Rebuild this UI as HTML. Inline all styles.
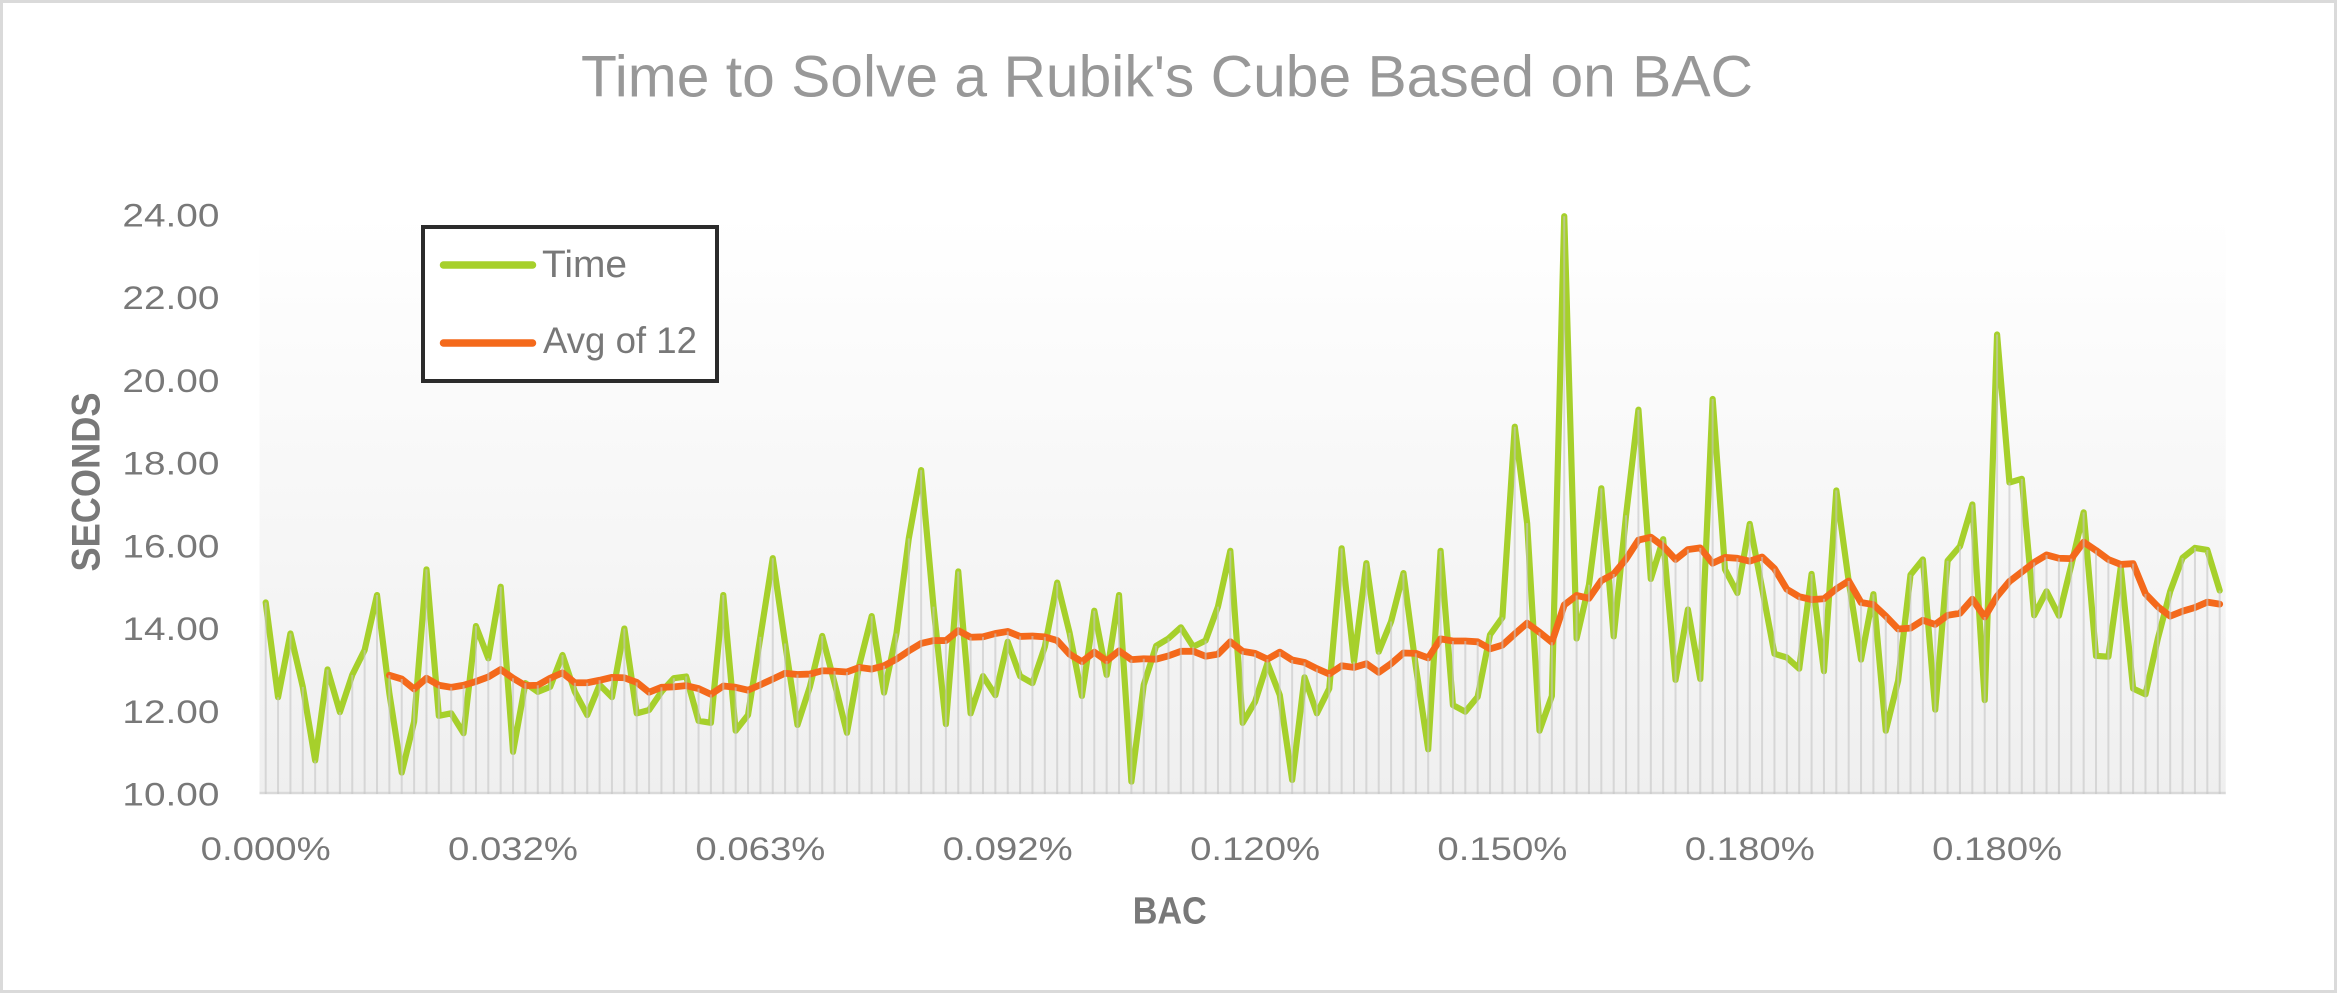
<!DOCTYPE html>
<html>
<head>
<meta charset="utf-8">
<style>
html,body{margin:0;padding:0;background:#fff;}
svg{display:block;}
text{font-family:"Liberation Sans",sans-serif;}
</style>
</head>
<body>
<svg width="2337" height="993" viewBox="0 0 2337 993" xmlns="http://www.w3.org/2000/svg">
<defs>
<linearGradient id="pg" x1="0" y1="0" x2="0" y2="1">
<stop offset="0" stop-color="#ffffff"/>
<stop offset="1" stop-color="#efefef"/>
</linearGradient>
</defs>
<rect x="0" y="0" width="2337" height="993" fill="#ffffff"/>
<rect x="1.5" y="1.5" width="2334" height="990" fill="none" stroke="#dadada" stroke-width="3"/>

<text x="581" y="96.7" font-size="58.6" fill="#989898" textLength="1172" lengthAdjust="spacingAndGlyphs">Time to Solve a Rubik's Cube Based on BAC</text>

<rect x="259.5" y="215" width="1966.2" height="579" fill="url(#pg)"/>
<line x1="259.5" y1="793" x2="2225.7" y2="793" stroke="#d9d9d9" stroke-width="2.5"/>

<g transform="matrix(12.367 0 0 -41.36 265.7 1207.6)">
<polyline fill="none" stroke="#a6d02b" stroke-width="6.2" stroke-linejoin="round" stroke-linecap="round" vector-effect="non-scaling-stroke" points="0,14.63 1,12.34 2,13.88 3,12.59 4,10.81 5,13.01 6,11.98 7,12.88 8,13.48 9,14.81 10,12.43 11,10.52 12,11.75 13,15.43 14,11.89 15,11.95 16,11.47 17,14.06 18,13.28 19,15.01 20,11.02 21,12.68 22,12.47 23,12.59 24,13.36 25,12.47 26,11.91 27,12.64 28,12.34 29,14 30,11.95 31,12.03 32,12.47 33,12.8 34,12.84 35,11.77 36,11.72 37,14.81 38,11.53 39,11.91 40,13.8 41,15.7 42,13.64 43,11.67 44,12.59 45,13.82 46,12.68 47,11.48 48,13.12 49,14.3 50,12.45 51,13.88 52,16.18 53,17.83 54,14.53 55,11.69 56,15.38 57,11.95 58,12.85 59,12.39 60,13.68 61,12.85 62,12.68 63,13.56 64,15.11 65,13.9 66,12.37 67,14.43 68,12.88 69,14.81 70,10.3 71,12.64 72,13.58 73,13.76 74,14.03 75,13.56 76,13.71 77,14.53 78,15.88 79,11.72 80,12.23 81,13.16 82,12.39 83,10.34 84,12.82 85,11.95 86,12.55 87,15.94 88,13.2 89,15.58 90,13.44 91,14.17 92,15.34 93,13.08 94,11.08 95,15.88 96,12.15 97,11.99 98,12.35 99,13.85 100,14.27 101,18.88 102,16.55 103,11.53 104,12.37 105,23.97 106,13.76 107,15.06 108,17.39 109,13.81 110,16.74 111,19.29 112,15.2 113,16.16 114,12.76 115,14.46 116,12.78 117,19.55 118,15.43 119,14.86 120,16.53 121,14.97 122,13.39 123,13.3 124,13.03 125,15.32 126,12.97 127,17.34 128,15.15 129,13.25 130,14.83 131,11.53 132,12.74 133,15.3 134,15.67 135,12.04 136,15.64 137,15.99 138,17 139,12.27 140,21.11 141,17.53 142,17.62 143,14.32 144,14.9 145,14.31 146,15.53 147,16.81 148,13.34 149,13.32 150,15.48 151,12.55 152,12.41 153,13.76 154,14.9 155,15.71 156,15.95 157,15.9 158,14.92"/>
<polyline fill="none" stroke="#f4691b" stroke-width="6.8" stroke-linejoin="round" stroke-linecap="round" vector-effect="non-scaling-stroke" points="10,12.87 11,12.78 12,12.54 13,12.8 14,12.63 15,12.58 16,12.63 17,12.72 18,12.83 19,13.01 20,12.8 21,12.62 22,12.63 23,12.8 24,12.93 25,12.69 26,12.69 27,12.75 28,12.82 29,12.81 30,12.7 31,12.46 32,12.58 33,12.59 34,12.62 35,12.55 36,12.41 37,12.61 38,12.58 39,12.51 40,12.64 41,12.78 42,12.92 43,12.89 44,12.9 45,12.98 46,12.97 47,12.95 48,13.06 49,13.02 50,13.1 51,13.26 52,13.46 53,13.64 54,13.71 55,13.71 56,13.95 57,13.79 58,13.8 59,13.88 60,13.93 61,13.81 62,13.82 63,13.8 64,13.71 65,13.38 66,13.2 67,13.43 68,13.22 69,13.46 70,13.25 71,13.27 72,13.26 73,13.34 74,13.45 75,13.45 76,13.33 77,13.38 78,13.68 79,13.45 80,13.4 81,13.26 82,13.43 83,13.24 84,13.18 85,13.03 86,12.9 87,13.1 88,13.06 89,13.15 90,12.94 91,13.15 92,13.41 93,13.4 94,13.29 95,13.75 96,13.7 97,13.7 98,13.68 99,13.51 100,13.6 101,13.87 102,14.13 103,13.91 104,13.67 105,14.57 106,14.8 107,14.73 108,15.16 109,15.32 110,15.68 111,16.14 112,16.21 113,15.99 114,15.67 115,15.91 116,15.95 117,15.58 118,15.72 119,15.7 120,15.63 121,15.73 122,15.45 123,14.95 124,14.77 125,14.7 126,14.72 127,14.96 128,15.15 129,14.63 130,14.58 131,14.3 132,13.99 133,14.01 134,14.2 135,14.1 136,14.32 137,14.37 138,14.71 139,14.28 140,14.78 141,15.14 142,15.37 143,15.6 144,15.78 145,15.7 146,15.69 147,16.09 148,15.89 149,15.67 150,15.55 151,15.57 152,14.84 153,14.53 154,14.3 155,14.42 156,14.51 157,14.64 158,14.59"/>
<path fill="none" stroke="rgba(196,196,196,0.6)" stroke-width="2" vector-effect="non-scaling-stroke" d="M0 10V14.63M1 10V12.34M2 10V13.88M3 10V12.59M4 10V10.81M5 10V13.01M6 10V11.98M7 10V12.88M8 10V13.48M9 10V14.81M10 10V12.87M11 10V12.78M12 10V12.54M13 10V15.43M14 10V12.63M15 10V12.58M16 10V12.63M17 10V14.06M18 10V13.28M19 10V15.01M20 10V12.8M21 10V12.68M22 10V12.63M23 10V12.8M24 10V13.36M25 10V12.69M26 10V12.69M27 10V12.75M28 10V12.82M29 10V14M30 10V12.7M31 10V12.46M32 10V12.58M33 10V12.8M34 10V12.84M35 10V12.55M36 10V12.41M37 10V14.81M38 10V12.58M39 10V12.51M40 10V13.8M41 10V15.7M42 10V13.64M43 10V12.89M44 10V12.9M45 10V13.82M46 10V12.97M47 10V12.95M48 10V13.12M49 10V14.3M50 10V13.1M51 10V13.88M52 10V16.18M53 10V17.83M54 10V14.53M55 10V13.71M56 10V15.38M57 10V13.79M58 10V13.8M59 10V13.88M60 10V13.93M61 10V13.81M62 10V13.82M63 10V13.8M64 10V15.11M65 10V13.9M66 10V13.2M67 10V14.43M68 10V13.22M69 10V14.81M70 10V13.25M71 10V13.27M72 10V13.58M73 10V13.76M74 10V14.03M75 10V13.56M76 10V13.71M77 10V14.53M78 10V15.88M79 10V13.45M80 10V13.4M81 10V13.26M82 10V13.43M83 10V13.24M84 10V13.18M85 10V13.03M86 10V12.9M87 10V15.94M88 10V13.2M89 10V15.58M90 10V13.44M91 10V14.17M92 10V15.34M93 10V13.4M94 10V13.29M95 10V15.88M96 10V13.7M97 10V13.7M98 10V13.68M99 10V13.85M100 10V14.27M101 10V18.88M102 10V16.55M103 10V13.91M104 10V13.67M105 10V23.97M106 10V14.8M107 10V15.06M108 10V17.39M109 10V15.32M110 10V16.74M111 10V19.29M112 10V16.21M113 10V16.16M114 10V15.67M115 10V15.91M116 10V15.95M117 10V19.55M118 10V15.72M119 10V15.7M120 10V16.53M121 10V15.73M122 10V15.45M123 10V14.95M124 10V14.77M125 10V15.32M126 10V14.72M127 10V17.34M128 10V15.15M129 10V14.63M130 10V14.83M131 10V14.3M132 10V13.99M133 10V15.3M134 10V15.67M135 10V14.1M136 10V15.64M137 10V15.99M138 10V17M139 10V14.28M140 10V21.11M141 10V17.53M142 10V17.62M143 10V15.6M144 10V15.78M145 10V15.7M146 10V15.69M147 10V16.81M148 10V15.89M149 10V15.67M150 10V15.55M151 10V15.57M152 10V14.84M153 10V14.53M154 10V14.9M155 10V15.71M156 10V15.95M157 10V15.9M158 10V14.92"/>
</g>

<g font-size="32" fill="#787878" text-anchor="end">
<text x="219.4" y="226.5" textLength="97" lengthAdjust="spacingAndGlyphs">24.00</text>
<text x="219.4" y="309.2" textLength="97" lengthAdjust="spacingAndGlyphs">22.00</text>
<text x="219.4" y="391.9" textLength="97" lengthAdjust="spacingAndGlyphs">20.00</text>
<text x="219.4" y="474.7" textLength="97" lengthAdjust="spacingAndGlyphs">18.00</text>
<text x="219.4" y="557.4" textLength="97" lengthAdjust="spacingAndGlyphs">16.00</text>
<text x="219.4" y="640.1" textLength="97" lengthAdjust="spacingAndGlyphs">14.00</text>
<text x="219.4" y="722.8" textLength="97" lengthAdjust="spacingAndGlyphs">12.00</text>
<text x="219.4" y="805.5" textLength="97" lengthAdjust="spacingAndGlyphs">10.00</text>
</g>

<g font-size="32" fill="#787878" text-anchor="middle">
<text x="265.7" y="860" textLength="130" lengthAdjust="spacingAndGlyphs">0.000%</text>
<text x="513.0" y="860" textLength="130" lengthAdjust="spacingAndGlyphs">0.032%</text>
<text x="760.4" y="860" textLength="130" lengthAdjust="spacingAndGlyphs">0.063%</text>
<text x="1007.7" y="860" textLength="130" lengthAdjust="spacingAndGlyphs">0.092%</text>
<text x="1255.1" y="860" textLength="130" lengthAdjust="spacingAndGlyphs">0.120%</text>
<text x="1502.4" y="860" textLength="130" lengthAdjust="spacingAndGlyphs">0.150%</text>
<text x="1749.8" y="860" textLength="130" lengthAdjust="spacingAndGlyphs">0.180%</text>
<text x="1997.1" y="860" textLength="130" lengthAdjust="spacingAndGlyphs">0.180%</text>
</g>

<text x="1169.7" y="923.3" font-size="38" font-weight="bold" fill="#787878" text-anchor="middle" textLength="74" lengthAdjust="spacingAndGlyphs">BAC</text>
<text transform="translate(99.3 482) rotate(-90)" x="0" y="0" font-size="40" font-weight="bold" fill="#787878" text-anchor="middle" textLength="179" lengthAdjust="spacingAndGlyphs">SECONDS</text>

<rect x="423" y="227" width="294" height="154" fill="#ffffff" stroke="#2b2b2b" stroke-width="4"/>
<line x1="443.5" y1="265" x2="532.5" y2="265" stroke="#a6d02b" stroke-width="7.5" stroke-linecap="round"/>
<line x1="443.5" y1="343" x2="532.5" y2="343" stroke="#f4691b" stroke-width="7.5" stroke-linecap="round"/>
<text x="542" y="277" font-size="38" fill="#787878" textLength="85" lengthAdjust="spacingAndGlyphs">Time</text>
<text x="543" y="353" font-size="37" fill="#787878" textLength="154" lengthAdjust="spacingAndGlyphs">Avg of 12</text>
</svg>
</body>
</html>
